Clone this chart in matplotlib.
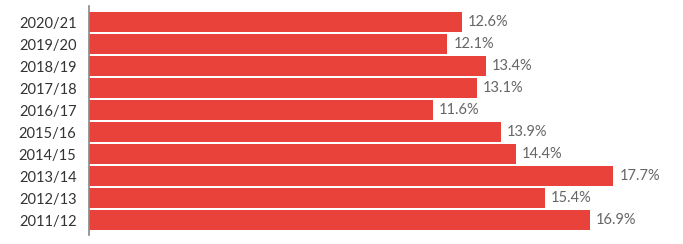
import matplotlib
matplotlib.use("Agg")
import matplotlib.pyplot as plt

seasons = ["2011/12", "2012/13", "2013/14", "2014/15", "2015/16",
           "2016/17", "2017/18", "2018/19", "2019/20", "2020/21"]
shares = [16.9, 15.4, 17.7, 14.4, 13.9, 11.6, 13.1, 13.4, 12.1, 12.6]

plt.rcParams["font.family"] = ["Lato", "DejaVu Sans"]

fig = plt.figure(figsize=(6.83, 2.44), dpi=100)
ax = fig.add_axes([89 / 683, 9 / 244, 1 - 89 / 683, 229 / 244])

pos = list(range(len(seasons)))
bars = ax.barh(pos, shares, height=0.9, color="#e8423b")
for b, v in zip(bars, shares):
    ax.text(b.get_width() + 0.2, b.get_y() + b.get_height() / 2, f"{v}%",
            va="center", ha="left", fontsize=10.5, color="#666666")

ax.set_yticks(pos)
ax.set_yticklabels(seasons, fontsize=10.5, color="#333333")
ax.set_xlim(0, 20.05)
ax.set_ylim(-0.68, 9.73)
ax.set_xticks([])
ax.tick_params(axis="y", length=0, pad=9)
for s in ["top", "right", "bottom"]:
    ax.spines[s].set_visible(False)
ax.spines["left"].set_color("#888888")
ax.spines["left"].set_linewidth(1.2)

fig.savefig("out.png", dpi=100)
plt.close(fig)
